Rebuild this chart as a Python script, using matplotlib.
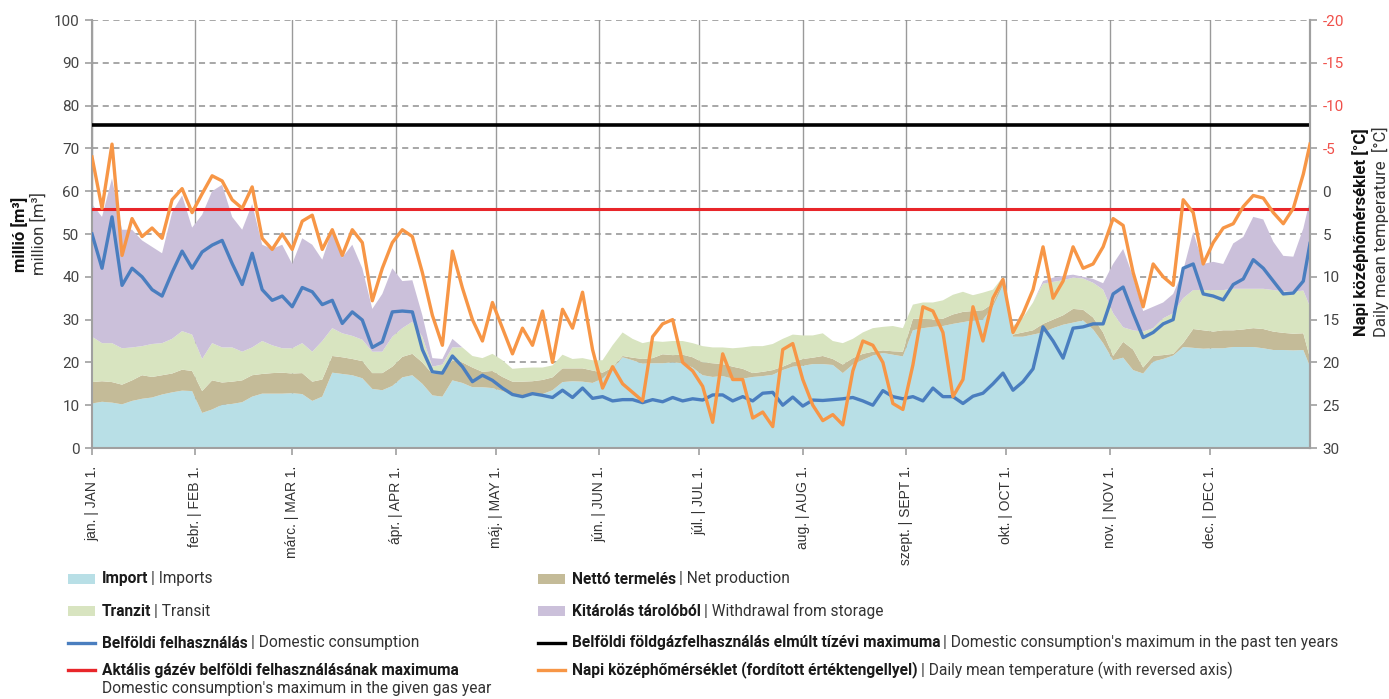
import matplotlib
matplotlib.use('Agg')
import matplotlib.pyplot as plt
import numpy as np
from matplotlib import font_manager
from matplotlib.patches import Rectangle
from matplotlib.lines import Line2D

# --- data (every 3rd day of the gas year) ---
# levels in million m3 (stacked tops) and storage withdrawal component
import_level = [10.4, 10.8, 10.6, 10.2, 11, 11.5, 11.8, 12.5, 13, 13.4,
                13.3, 8.2, 9, 10.1, 10.3, 10.7, 12, 12.7, 12.7, 12.7,
                12.8, 12.6, 11, 12, 17.6, 17.3, 17, 16.3, 13.8, 13.5,
                14.5, 16.5, 17, 15, 12.3, 12, 15.8, 15.2, 14.2, 14.2,
                14, 13.3, 12.5, 12.3, 12.3, 12.6, 13.5, 15.4, 15.6, 15.5,
                15.2, 16.2, 18.5, 21.2, 20.5, 19.7, 19.8, 19.8, 20, 19.8,
                18.8, 17, 16.6, 16.8, 16.2, 16.2, 16.6, 16.8, 17.1, 18.2,
                19, 19.2, 19.6, 19.6, 19.4, 17.5, 19.5, 20.6, 21.6, 22.2,
                21.8, 21.4, 27.5, 28, 28.3, 28.5, 29, 29.4, 29.8, 30,
                33, 38, 26, 26, 26.5, 27, 28, 28.8, 29.3, 29.8,
                27.7, 24.5, 20.5, 21.1, 18.2, 17.4, 20.2, 20.8, 21.6, 23.6,
                23.4, 23.2, 23.3, 23.3, 23.6, 23.6, 23.6, 23.3, 22.9, 22.9,
                22.8, 22.9, 19]
production_level = [15.4, 15.6, 15.4, 14.8, 15.8, 17, 16.6, 17, 17.4, 18.3,
                    18, 13.3, 15.8, 15.3, 15.5, 15.8, 17, 17.3, 17.5, 17.6,
                    17.4, 17.5, 15.5, 16, 21.5, 21.2, 20.8, 20.3, 17.5, 17.5,
                    19, 21.3, 22, 20, 17.3, 17.5, 20.5, 20, 18.8, 17.8,
                    18, 16.6, 15.5, 15.5, 15.6, 15.9, 16.5, 18.6, 18.6, 18.6,
                    18.1, 17.6, 18.8, 21.5, 21.1, 20.8, 21, 21.9, 21.7, 21.8,
                    21.2, 20, 19.8, 19.6, 19, 18.5, 17.5, 17.8, 18.2, 19,
                    20, 20.8, 21.1, 21.5, 20.8, 19.5, 21, 22, 22.5, 22.8,
                    22.6, 22.5, 30.2, 30.2, 30, 30.2, 31.2, 31.8, 32, 32.2,
                    33.8, 39, 26.5, 27, 27.5, 29, 30, 31, 32.5, 32.3,
                    30.5, 27, 21.5, 24.8, 23, 18.8, 21.5, 21.7, 22, 24.5,
                    27.8, 27.5, 27.2, 27.5, 27.5, 27.7, 28, 27.8, 27.2, 26.9,
                    26.7, 26.8, 21]
transit_level = [26, 24.5, 24.5, 23.3, 23.5, 23.8, 24.3, 24.5, 25.5, 27.3,
                 26.5, 20.8, 24.5, 23.5, 23.5, 22.5, 23.5, 25, 24, 23.3,
                 23.3, 24.5, 22.5, 25, 28, 26.8, 26.2, 25.3, 22.5, 22.5,
                 26, 28, 29.5, 26, 19, 19.5, 23.5, 23.5, 21.5, 21,
                 22, 20.5, 18.5, 18.7, 18.8, 18.8, 19.3, 21.8, 20.8, 21,
                 20.5, 20.5, 24, 27, 25.5, 24.5, 25, 24.8, 25, 25,
                 24.5, 23.8, 23.5, 23.5, 23.3, 23.5, 23.8, 23.8, 24.3, 25.5,
                 26.5, 26.3, 26.3, 26.8, 25, 24.5, 25.5, 27, 28, 28.3,
                 28.5, 28, 33.5, 34, 34, 34.5, 35.8, 36.5, 35.7, 36.3,
                 37, 40, 28.5, 30.5, 34, 38.4, 38.8, 39.2, 39.8, 39.6,
                 38.6, 37, 31.5, 28.2, 27.5, 27.2, 28, 30.3, 31.5, 35,
                 36.9, 36.9, 36.9, 36.9, 37.2, 37.2, 37.2, 37.2, 36.9, 36.6,
                 36.5, 36.8, 33]
storage = [31, 29.5, 38.5, 27.7, 27.5, 24.7, 22.7, 21, 29.5, 31.7,
           25, 33.7, 35.5, 38, 30.5, 28.5, 33.5, 22.5, 22.5, 24.2,
           19.7, 24.5, 25, 19, 23, 17.7, 21.3, 16.7, 10, 13.5,
           16, 11, 9.7, 5, 2, 1.3, 2, 0, 0, 0,
           0, 0, 0, 0, 0, 0, 0, 0, 0, 0,
           0, 0, 0, 0, 0, 0, 0, 0, 0, 0,
           0, 0, 0, 0, 0, 0, 0, 0, 0, 0,
           0, 0, 0, 0, 0, 0, 0, 0, 0, 0,
           0, 0, 0, 0, 0, 0, 0, 0, 0, 0,
           0, 0, 0, 0, 0, 0.6, 1, 1, 0.7, 0.4,
           0.9, 1.5, 11.5, 18.3, 12.5, 4.8, 5, 3.7, 4.5, 6.5,
           13.6, 6.1, 6.6, 6.1, 10.6, 12.1, 16.8, 16.2, 11.3, 8.3,
           8.2, 14.5, 25]
domestic = [50, 42, 54, 38, 42, 40, 37, 35.5, 41, 46,
            42, 45.8, 47.4, 48.5, 43.1, 38.2, 45.5, 37, 34.5, 35.5,
            33, 37.5, 36.5, 33.5, 34.5, 29.1, 31.8, 29.9, 23.5, 24.8,
            31.8, 32, 31.8, 23, 17.8, 17.5, 21.5, 19, 15.5, 17,
            15.8, 14, 12.5, 12, 12.7, 12.3, 11.8, 13.5, 11.8, 14,
            11.6, 12, 11, 11.3, 11.3, 10.6, 11.3, 10.8, 11.8, 11,
            11.5, 11.2, 12.4, 12.4, 11, 12, 11, 12.8, 13, 10,
            11.9, 9.8, 11.2, 11.1, 11.3, 11.5, 11.8, 11, 10, 13.4,
            12, 11.5, 12, 11, 14, 12, 12, 10.4, 12.1, 12.8,
            15, 17.5, 13.5, 15.5, 18.5, 28.3, 25, 21, 28, 28.3,
            29, 29, 36, 37.6, 31.5, 25.8, 27, 29, 30, 42,
            43, 36, 35.5, 34.6, 38.2, 39.5, 44, 42, 39, 36,
            36.2, 39, 47.8]
temperature = [-4, 2, -5.5, 7.5, 3.2, 5.3, 4.3, 5.5, 1, -0.3,
               2.5, 0.3, -1.8, -1.2, 1, 2, -0.5, 5.5, 6.8, 5,
               6.8, 3.5, 2.8, 6.8, 4.5, 7.5, 4.5, 6, 12.8, 9,
               6, 4.5, 5.3, 9.5, 14.5, 18, 7, 11.3, 15, 17.5,
               13, 16, 19, 16, 18, 14, 20, 13.8, 16, 11.8,
               18.5, 23, 20.5, 22.5, 23.5, 24.5, 17, 15.5, 15, 20,
               21, 22.8, 27, 19, 22, 22, 26.5, 25.8, 27.5, 18.5,
               17.8, 22, 25, 26.8, 26.1, 27.3, 21, 17.5, 18, 20,
               24.8, 25.5, 20.3, 13.5, 14, 16.5, 24, 22, 13.5, 17.5,
               12.5, 10.3, 16.5, 14.3, 11.5, 6.5, 12.5, 10.5, 6.5, 9,
               8.5, 6.5, 3.2, 4, 9.5, 13.5, 8.5, 10, 11, 1,
               2.5, 8.5, 6, 4.3, 3.8, 1.8, 0.5, 0.8, 2.5, 3.8,
               2, -2, -5.5]
max_ten_years = 75.4
max_gas_year = 55.8

month_starts = [0, 31, 60, 91, 121, 152, 182, 213, 244, 274, 305, 335]
month_labels = ['jan. | JAN 1.', 'febr. | FEB 1.', 'márc. | MAR 1.', 'ápr. | APR 1.',
                'máj. | MAY 1.', 'jún. | JUN 1.', 'júl. | JUL 1.', 'aug. | AUG 1.',
                'szept. | SEPT 1.', 'okt. | OCT 1.', 'nov. | NOV 1.', 'dec. | DEC 1.']

days = np.r_[np.arange(0, 364, 3), 365]

imports = np.array(import_level)
production = np.array(production_level) - imports
transit = np.array(transit_level) - np.array(production_level)

# fonts
installed = {f.name for f in font_manager.fontManager.ttflist}
NARROW = 'Liberation Sans Narrow' if 'Liberation Sans Narrow' in installed else 'Roboto'
DIN = [NARROW, 'DejaVu Sans']
ROB = ['Roboto', 'DejaVu Sans']
ARIAL = ['Liberation Sans', 'DejaVu Sans']

c_import = '#b8dfe6'
c_prod = '#c4bb98'
c_transit = '#d8e4c0'
c_storage = '#cbc0da'
c_domestic = '#4a7ebf'
c_red = '#e8262a'
c_orange = '#f79646'
c_grid = '#8f8f8f'

W, H = 1389, 699
fig = plt.figure(figsize=(W / 100, H / 100), dpi=100)
ax = fig.add_axes([92 / W, 1 - 448 / H, 1218 / W, 428 / H])

ax.stackplot(days, imports, production, transit, storage,
             colors=[c_import, c_prod, c_transit, c_storage], linewidth=0, zorder=2)
ax.plot(days, domestic, color=c_domestic, lw=2.4, zorder=4, solid_joinstyle='round')
ax.axhline(max_gas_year, color=c_red, lw=2.2, zorder=5)
ax.axhline(max_ten_years, color='black', lw=2.6, zorder=5)

ax.set_xlim(0, 365)
ax.set_ylim(0, 100)
ax.set_axisbelow(True)
ax.grid(axis='y', color=c_grid, lw=1.1, linestyle=(0, (4, 3)))
ax.grid(axis='x', color='#9a9a9a', lw=1.0, linestyle='-')
ax.set_yticks(range(0, 101, 10))
ax.set_xticks(month_starts)
ax.set_xticklabels(month_labels, rotation=90, fontfamily=ARIAL, fontsize=10, color='#333333')
for lab in ax.get_yticklabels():
    lab.set_fontfamily(ROB)
    lab.set_fontsize(11)
    lab.set_color('#444444')
ax.tick_params(axis='both', direction='out', length=5, color='#a0a0a0', width=1.2)
ax.tick_params(axis='x', pad=8)
ax.tick_params(axis='y', pad=4)
ax.spines['top'].set_visible(False)
for s in ['left', 'bottom', 'right']:
    ax.spines[s].set_color('#a0a0a0')
    ax.spines[s].set_linewidth(1.5)

ax2 = ax.twinx()
ax2.plot(days, temperature, color=c_orange, lw=2.4, zorder=6, solid_joinstyle='round')
ax2.set_ylim(30, -20)
ax2.set_xlim(0, 365)
tvals = list(range(-20, 31, 5))
ax2.set_yticks(tvals)
ax2.set_yticklabels([str(v) for v in tvals], fontfamily=ROB, fontsize=11)
for v, lab in zip(tvals, ax2.get_yticklabels()):
    lab.set_color('#f0504a' if v < 0 else '#444444')
ax2.tick_params(axis='y', direction='out', length=5, color='#a0a0a0', width=1.2, pad=4)
for s in ['top', 'left', 'bottom']:
    ax2.spines[s].set_visible(False)
ax2.spines['right'].set_color('#a0a0a0')
ax2.spines['right'].set_linewidth(1.5)

# axis titles
fig.text(20 / W, 1 - 234 / H, 'millió [m³]', rotation=90, ha='center', va='center',
         fontfamily=ROB, fontweight='bold', fontsize=12, color='#111111')
fig.text(39 / W, 1 - 234 / H, 'million [m³]', rotation=90, ha='center', va='center',
         fontfamily=ROB, fontsize=12, color='#333333')
fig.text(1361 / W, 1 - 232 / H, 'Napi középhőmérséklet [°C]', rotation=90, ha='center',
         va='center', fontfamily=ROB, fontweight='bold', fontsize=12, color='#111111')
fig.text(1380 / W, 1 - 232 / H, 'Daily mean temperature  [°C]', rotation=90, ha='center',
         va='center', fontfamily=ROB, fontsize=12, color='#333333')

# legend, drawn by hand
renderer = fig.canvas.get_renderer()
LEG_FS = 11.2


def legend_entry(x, y, kind, color, bold, regular):
    fy = 1 - y / H
    if kind == 'patch':
        fig.add_artist(Rectangle((x / W, fy - 5 / H), 27 / W, 10 / H, transform=fig.transFigure,
                                 facecolor=color, edgecolor='none'))
    else:
        fig.add_artist(Line2D([x / W, (x + 27) / W], [fy, fy], transform=fig.transFigure,
                              color=color, lw=2.4))
    t = fig.text((x + 34) / W, fy, bold, ha='left', va='center', fontfamily=DIN,
                 fontweight='bold', fontsize=LEG_FS, color='#1a1a1a')
    if regular:
        bb = t.get_window_extent(renderer=renderer)
        fig.text((bb.x1 + 3) / W, fy, '| ' + regular, ha='left', va='center',
                 fontfamily=DIN, fontsize=LEG_FS, color='#333333')


legend_entry(68, 579, 'patch', c_import, 'Import', 'Imports')
legend_entry(68, 611, 'patch', c_transit, 'Tranzit', 'Transit')
legend_entry(68, 643, 'line', c_domestic, 'Belföldi felhasználás', 'Domestic consumption')
legend_entry(68, 670, 'line', c_red, 'Aktális gázév belföldi felhasználásának maximuma', None)
fig.text(102 / W, 1 - 689 / H, "Domestic consumption's maximum in the given gas year",
         ha='left', va='center', fontfamily=DIN, fontsize=LEG_FS, color='#333333')
legend_entry(538, 579, 'patch', c_prod, 'Nettó termelés', 'Net production')
legend_entry(538, 611, 'patch', c_storage, 'Kitárolás tárolóból', 'Withdrawal from storage')
legend_entry(538, 643, 'line', 'black', 'Belföldi földgázfelhasználás elmúlt tízévi maximuma',
             "Domestic consumption's maximum in the past ten years")
legend_entry(538, 670, 'line', c_orange, 'Napi középhőmérséklet (fordított értéktengellyel)',
             'Daily mean temperature (with reversed axis)')

fig.savefig('out.png', dpi=100)
